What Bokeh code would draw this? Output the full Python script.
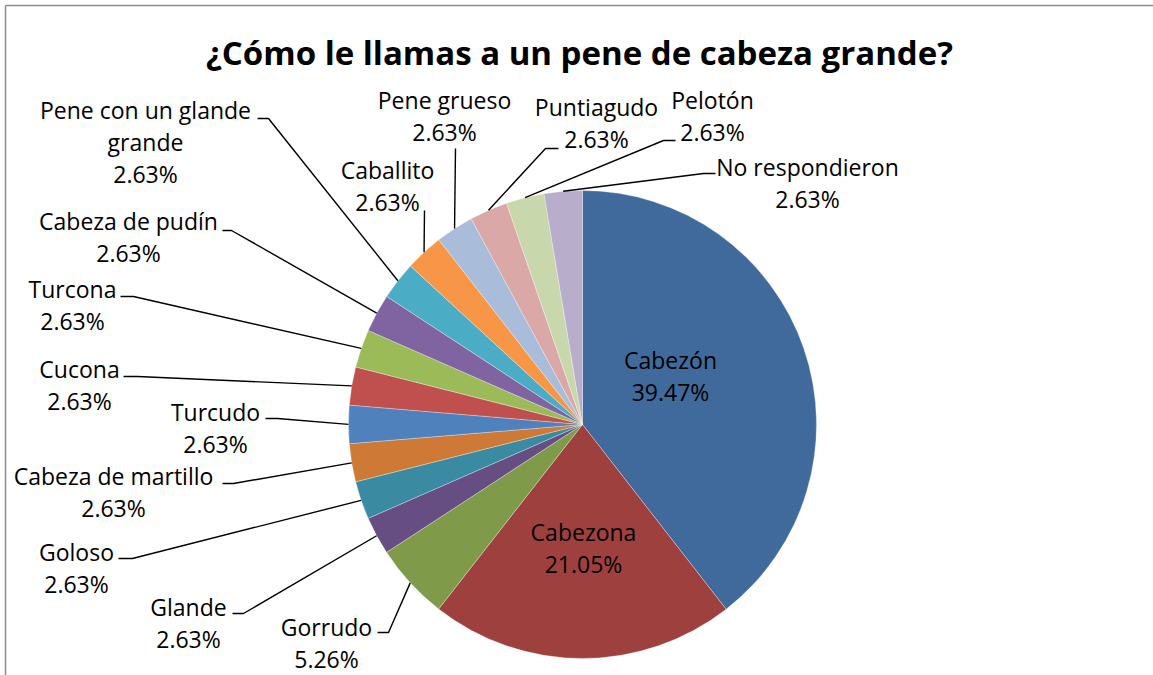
import math
from bokeh.plotting import figure
from bokeh.models import Range1d, ColumnDataSource
from bokeh.core.properties import value
from bokeh.embed import file_html
from bokeh.resources import INLINE

# ---------------- data ----------------
title = "¿Cómo le llamas a un pene de cabeza grande?"
categories = ["Cabezón", "Cabezona", "Gorrudo", "Glande", "Goloso",
              "Cabeza de martillo", "Turcudo", "Cucona", "Turcona",
              "Cabeza de pudín", "Pene con un glande grande", "Caballito",
              "Pene grueso", "Puntiagudo", "Pelotón", "No respondieron"]
percentages = [39.47, 21.05, 5.26, 2.63, 2.63, 2.63, 2.63, 2.63, 2.63,
               2.63, 2.63, 2.63, 2.63, 2.63, 2.63, 2.63]
colors = ["#416A9C", "#9E413E", "#7F9B4A", "#664D82", "#3A8BA1",
          "#CE7A36", "#4F81BD", "#C0504D", "#9BBB59", "#8064A2",
          "#4BACC6", "#F79646", "#A9BCDA", "#DAA8A7", "#C9D7AC", "#B8AECB"]

# ---------------- layout (reference pixel coordinates) ----------------
W, H = 1153, 675
CX, CY, R = 582, 424, 234
FONT = "Open Sans"
LINE_GAP = 32
TEXT_DY = -1

# label: (lines of name, centre x, first-line y, label-side leader points)
label_layout = {
    "Cabezón": (["Cabezón"], 670, 360, None),
    "Cabezona": (["Cabezona"], 583, 532, None),
    "Gorrudo": (["Gorrudo"], 326, 627, [(377, 632), (388, 632)]),
    "Glande": (["Glande"], 188, 607, [(232, 613), (243, 613)]),
    "Goloso": (["Goloso"], 76, 552, [(118, 558), (132, 558)]),
    "Cabeza de martillo": (["Cabeza de martillo"], 113, 476, [(222, 483), (233, 483)]),
    "Turcudo": (["Turcudo"], 215, 412, [(265, 418), (277, 418)]),
    "Cucona": (["Cucona"], 79, 369, [(123, 376), (137, 376)]),
    "Turcona": (["Turcona"], 72, 289, [(120, 296), (133, 296)]),
    "Cabeza de pudín": (["Cabeza de pudín"], 128, 221, [(222, 230), (231, 230)]),
    "Pene con un glande grande": (["Pene con un glande", "grande"], 145, 110, [(257, 118), (268, 118)]),
    "Caballito": (["Caballito"], 387, 170, [(424, 210)]),
    "Pene grueso": (["Pene grueso"], 444, 100, [(455, 148)]),
    "Puntiagudo": (["Puntiagudo"], 596, 107, [(558, 148), (545, 148)]),
    "Pelotón": (["Pelotón"], 712, 100, [(675, 140), (663, 140)]),
    "No respondieron": (["No respondieron"], 807, 167, [(715, 173), (703, 173)]),
}


def fy(y_px):
    return H - y_px


p = figure(width=W, height=H, x_range=Range1d(0, W), y_range=Range1d(0, H),
           output_backend="svg", toolbar_location=None, min_border=0)
p.axis.visible = False
p.grid.visible = False
p.outline_line_color = None
p.background_fill_color = "white"
p.border_fill_color = "white"

# frame (top and left edges of chart area)
p.line([5, W], [fy(5), fy(5)], line_color="#8C8C8C", line_width=1.5)
p.line([5, 5], [fy(5), fy(H)], line_color="#8C8C8C", line_width=1.5)

# ---------------- wedges ----------------
total = sum(percentages)
starts, ends, mids = [], [], []
cum = 0.0
for v in percentages:
    a0 = cum / total * 2 * math.pi
    cum += v
    a1 = cum / total * 2 * math.pi
    starts.append(math.pi / 2 - a0)
    ends.append(math.pi / 2 - a1)
    mids.append((a0 + a1) / 2)

src = ColumnDataSource(dict(start=starts, end=ends, color=colors, cat=categories))
p.wedge(x=CX, y=fy(CY), radius=R, start_angle="start", end_angle="end",
        direction="clock", fill_color="color", line_color="white",
        line_width=0.6, line_alpha=0.5, source=src)

# ---------------- leader lines ----------------
xs, ys = [], []
for cat, mid in zip(categories, mids):
    pts = label_layout[cat][3]
    if not pts:
        continue
    ex = CX + R * math.sin(mid)
    ey = CY - R * math.cos(mid)
    lx = [pt[0] for pt in pts] + [ex]
    ly = [fy(pt[1]) for pt in pts] + [fy(ey)]
    xs.append(lx)
    ys.append(ly)
p.multi_line(xs, ys, line_color="black", line_width=1.4)

# ---------------- labels ----------------
tx, ty, tt = [], [], []
for cat, v in zip(categories, percentages):
    lines, cx, y0, _ = label_layout[cat]
    all_lines = lines + ["%.2f%%" % v]
    for i, s in enumerate(all_lines):
        tx.append(cx)
        ty.append(fy(y0 + TEXT_DY + i * LINE_GAP))
        tt.append(s)
p.text(x=tx, y=ty, text=tt, text_align="center", text_baseline="middle",
       text_font=value(FONT), text_font_size="23px", text_color="black")

# title
p.text(x=[579], y=[fy(52)], text=[title], text_align="center",
       text_baseline="middle", text_font=value(FONT), text_font_style="bold",
       text_font_size="33px", text_color="black")

open("out.html", "w").write(file_html(p, INLINE))
